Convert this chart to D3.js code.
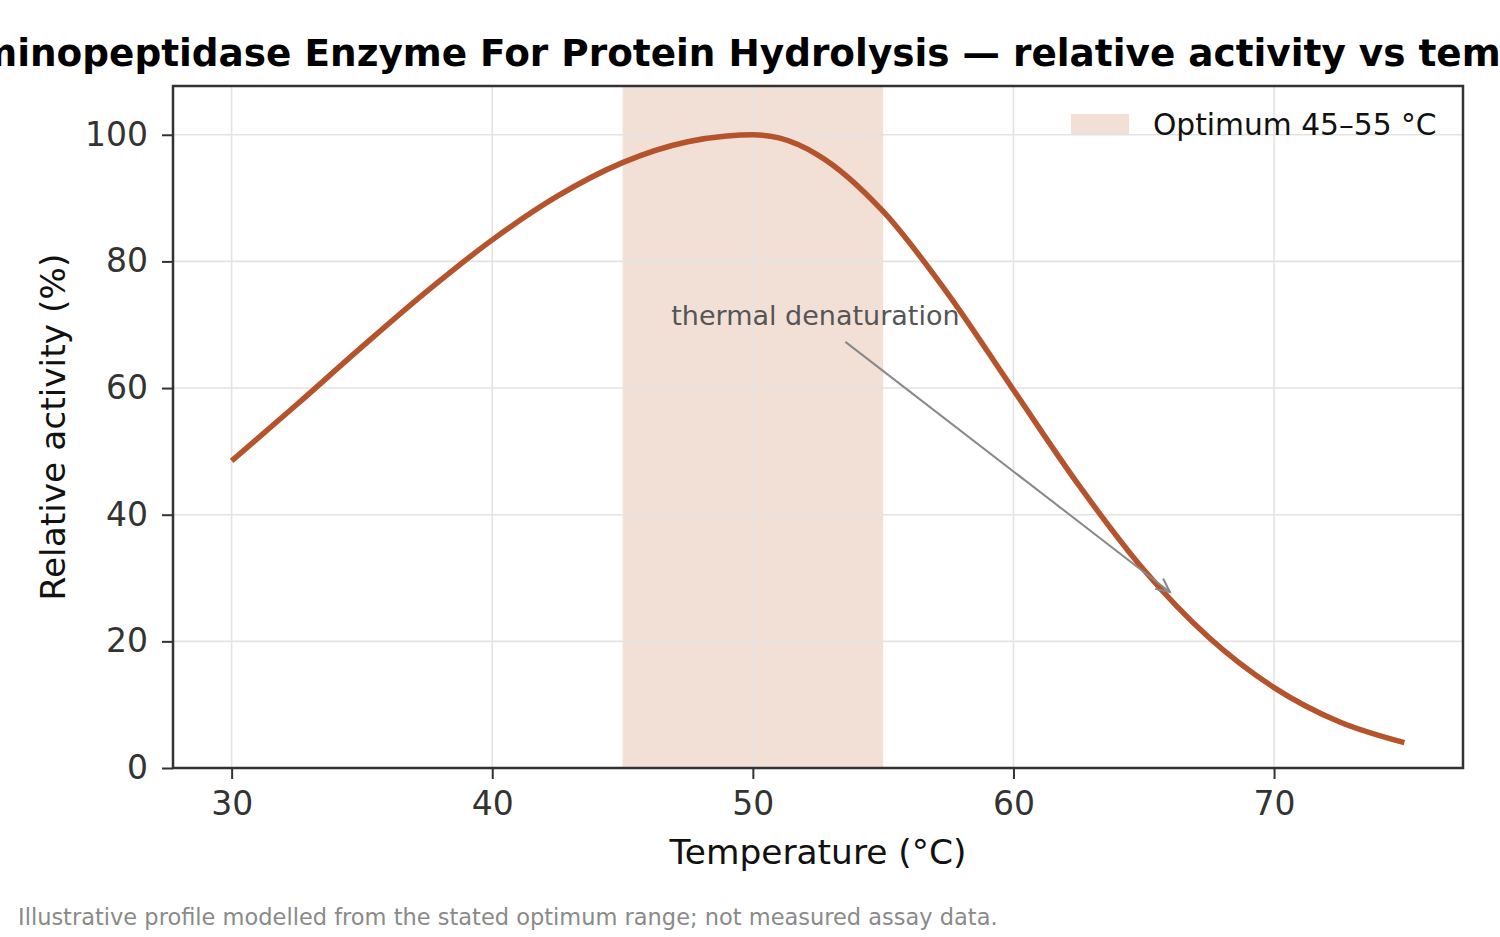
<!DOCTYPE html>
<html>
<head>
<meta charset="utf-8">
<script src="https://cdn.jsdelivr.net/npm/d3@7/dist/d3.min.js"></script>
<style>
  html, body { margin: 0; padding: 0; background: #fff; }
  svg { display: block; font-family: "DejaVu Sans", sans-serif; }
</style>
</head>
<body>
<svg id="chart" width="1500" height="937"></svg>
<script>
// ---- Data ----
const temperatures = [30, 32.5, 35, 37.5, 40, 42.5, 45, 47.5, 49, 50, 51, 52.5, 55, 57.5, 60, 62.5, 65, 67.5, 70, 72.5, 75];
const activity     = [48.5, 57.4, 66.5, 75.3, 83.4, 90.3, 95.6, 98.9, 99.8, 100, 99.5, 96.8, 87.9, 74.8, 59.7, 44.7, 31.3, 20.6, 12.7, 7.3, 4.0];
const xTicks = [30, 40, 50, 60, 70];
const yTicks = [0, 20, 40, 60, 80, 100];
const optimumRange = [45, 55];
const annotationPoint = [66, 27.8];
const annotationText = [52.4, 71.4];

const titleText = "Aminopeptidase Enzyme For Protein Hydrolysis \u2014 relative activity vs temperature";
const xLabel = "Temperature (\u00B0C)";
const yLabel = "Relative activity (%)";
const legendLabel = "Optimum 45\u201355 \u00B0C";
const noteText = "Illustrative profile modelled from the stated optimum range; not measured assay data.";
const annotationLabel = "thermal denaturation";

// ---- Layout ----
const plot = { left: 173, right: 1463, top: 86, bottom: 768 };
const lineColor = "#b5532c";
const bandColor = "#f2e0d7";

const svg = d3.select("#chart");

const x = d3.scaleLinear().domain([27.75, 77.25]).range([plot.left, plot.right]);
const y = d3.scaleLinear().domain([0, 107.7]).range([plot.bottom, plot.top]);

// Optimum band
svg.append("rect")
  .attr("x", x(optimumRange[0]))
  .attr("y", plot.top)
  .attr("width", x(optimumRange[1]) - x(optimumRange[0]))
  .attr("height", plot.bottom - plot.top)
  .attr("fill", bandColor);

// Grid
const grid = svg.append("g").attr("stroke", "#e3e3e3").attr("stroke-width", 1.6);
grid.selectAll("line.gx").data(xTicks).join("line")
  .attr("x1", d => x(d)).attr("x2", d => x(d))
  .attr("y1", plot.top).attr("y2", plot.bottom);
grid.selectAll("line.gy").data(yTicks).join("line")
  .attr("x1", plot.left).attr("x2", plot.right)
  .attr("y1", d => y(d)).attr("y2", d => y(d));

// Curve
const line = d3.line()
  .x((d, i) => x(temperatures[i]))
  .y(d => y(d))
  .curve(d3.curveMonotoneX);
svg.append("path")
  .attr("d", line(activity))
  .attr("fill", "none")
  .attr("stroke", lineColor)
  .attr("stroke-width", 5.5)
  .attr("stroke-linecap", "butt")
  .attr("stroke-linejoin", "round");

// Annotation
const ax0 = x(annotationText[0]) + 30, ay0 = y(annotationText[1]) + 26;
const ax1 = x(annotationPoint[0]), ay1 = y(annotationPoint[1]);
svg.append("text")
  .attr("x", x(annotationText[0]))
  .attr("y", y(annotationText[1]))
  .attr("text-anchor", "middle")
  .attr("dominant-baseline", "central")
  .attr("font-size", 27)
  .attr("fill", "#555555")
  .text(annotationLabel);
svg.append("line")
  .attr("x1", ax0).attr("y1", ay0)
  .attr("x2", ax1).attr("y2", ay1)
  .attr("stroke", "#888888").attr("stroke-width", 2);
{
  const ang = Math.atan2(ay1 - ay0, ax1 - ax0);
  const L = 15, spread = 0.45;
  const p1 = [ax1 - L * Math.cos(ang - spread), ay1 - L * Math.sin(ang - spread)];
  const p2 = [ax1 - L * Math.cos(ang + spread), ay1 - L * Math.sin(ang + spread)];
  svg.append("path")
    .attr("d", `M${p1[0]},${p1[1]}L${ax1},${ay1}L${p2[0]},${p2[1]}`)
    .attr("fill", "none").attr("stroke", "#888888").attr("stroke-width", 2);
}

// Axes
const xAxis = d3.axisBottom(x).tickValues(xTicks).tickSize(11).tickPadding(13).tickSizeOuter(0);
const yAxis = d3.axisLeft(y).tickValues(yTicks).tickSize(11).tickPadding(14).tickSizeOuter(0);
const gx = svg.append("g").attr("transform", `translate(0,${plot.bottom})`).call(xAxis);
const gy = svg.append("g").attr("transform", `translate(${plot.left},0)`).call(yAxis);
[gx, gy].forEach(g => {
  g.select(".domain").remove();
  g.selectAll(".tick line").attr("stroke", "#333333").attr("stroke-width", 2);
  g.selectAll(".tick text").attr("fill", "#333333").attr("font-size", 33)
    .attr("font-family", "DejaVu Sans, sans-serif");
});
gx.selectAll(".tick text").attr("dy", "0.71em");

// Frame
svg.append("rect")
  .attr("x", plot.left).attr("y", plot.top)
  .attr("width", plot.right - plot.left).attr("height", plot.bottom - plot.top)
  .attr("fill", "none").attr("stroke", "#333333").attr("stroke-width", 2.5);

// Axis labels
svg.append("text")
  .attr("x", (plot.left + plot.right) / 2)
  .attr("y", 864)
  .attr("text-anchor", "middle")
  .attr("font-size", 34.4)
  .attr("fill", "#111")
  .text(xLabel);
svg.append("text")
  .attr("transform", `translate(65,${(plot.top + plot.bottom) / 2}) rotate(-90)`)
  .attr("text-anchor", "middle")
  .attr("font-size", 34.4)
  .attr("fill", "#111")
  .text(yLabel);

// Title (overflows the page edges, as in the reference)
svg.append("text")
  .attr("x", (plot.left + plot.right) / 2 - 1)
  .attr("y", 66)
  .attr("text-anchor", "middle")
  .attr("font-size", 37.4)
  .attr("font-weight", "bold")
  .attr("fill", "#000")
  .text(titleText);

// Legend
const lg = svg.append("g");
lg.append("rect").attr("x", 1071).attr("y", 114).attr("width", 58).attr("height", 20).attr("fill", bandColor);
lg.append("text").attr("x", 1153).attr("y", 124).attr("dominant-baseline", "central")
  .attr("font-size", 29.7).attr("fill", "#111").text(legendLabel);

// Footnote
svg.append("text")
  .attr("x", 18).attr("y", 925)
  .attr("font-size", 22.5)
  .attr("fill", "#8a8a8a")
  .text(noteText);
</script>
</body>
</html>
